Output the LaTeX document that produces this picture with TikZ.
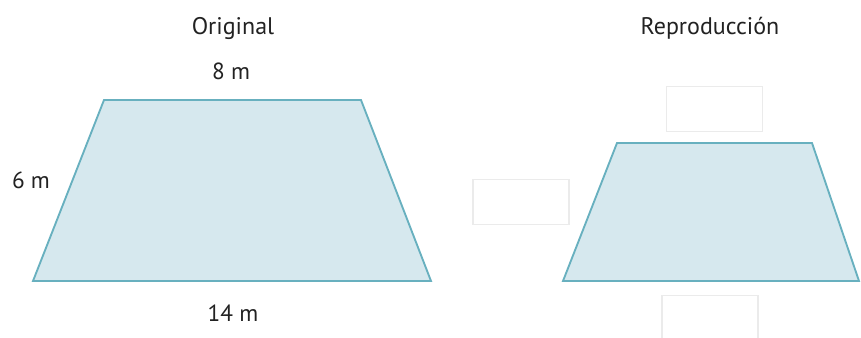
\documentclass[tikz,border=0pt]{standalone}
\usepackage{fontspec}
\setmainfont{PT Sans}
\usepackage{tkz-euclide}
\definecolor{bordtrap}{HTML}{68B0BF}
\definecolor{fondtrap}{HTML}{D6E8EE}
\definecolor{bordcase}{HTML}{EBEBEB}
\definecolor{encre}{HTML}{222222}
\tikzset{
  trapeze/.style={draw=bordtrap,fill=fondtrap,line width=1.4pt,line join=miter},
  mesure/.style={font=\fontsize{17.5}{20}\selectfont,text=encre,anchor=base,inner sep=0pt},
  titre/.style={font=\fontsize{18}{21}\selectfont,text=encre,anchor=base,inner sep=0pt},
  case/.style={draw=bordcase,line width=1.2pt,fill=white,minimum width=72pt,minimum height=34pt,inner sep=0pt}
}
\begin{document}
\begin{tikzpicture}[x=0.75pt,y=-0.75pt]
\useasboundingbox (0,0) rectangle (861,338);

% =========================
% POINTS
% =========================

\tkzDefPoint(104,100){A}
\tkzDefPoint(361,100){B}
\tkzDefPoint(431,281){C}
\tkzDefPoint(33,281){D}

\tkzDefPoint(617,143){E}
\tkzDefPoint(812,143){F}
\tkzDefPoint(859,281){G}
\tkzDefPoint(563,281){H}

% =========================
% TRAPEZES
% =========================

\tkzDrawPolygon[trapeze](A,B,C,D)
\tkzDrawPolygon[trapeze](E,F,G,H)

% =========================
% TEXTES
% =========================

\node[titre] (original) at (233,35) {Original};
\node[titre] (repro) at (710,35) {Reproducción};

\node[mesure] (haut) at (231,80) {8 m};
\node[mesure] (cote) at (31,189) {6 m};
\node[mesure] (bas) at (233,322) {14 m};

% =========================
% CASES VIDES
% =========================

\node[case] (casehaut) at (714.5,109) {};
\node[case] (casecote) at (521,202) {};
\node[case] (casebas) at (710,318) {};
\end{tikzpicture}
\end{document}
